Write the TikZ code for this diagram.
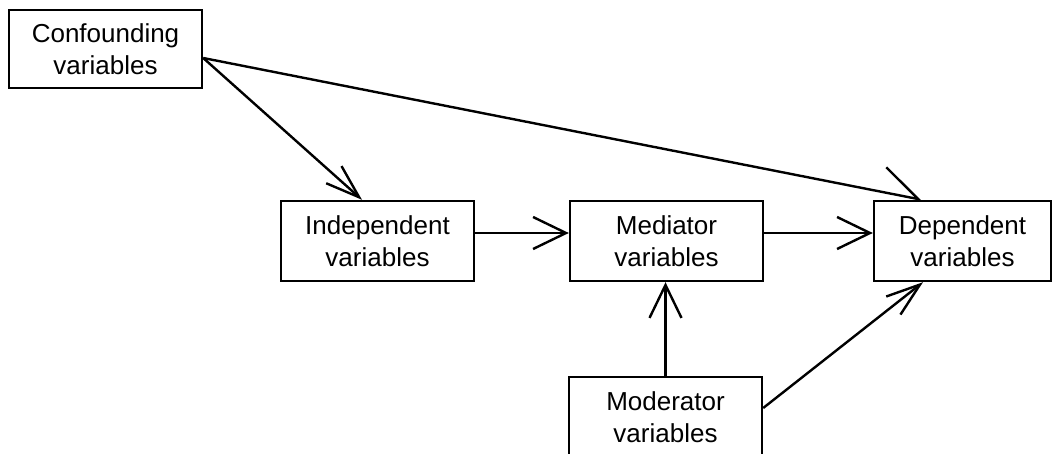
\documentclass[tikz,border=0pt]{standalone}
\usepackage{fontspec}
\setmainfont{Liberation Sans}
\usetikzlibrary{arrows.meta}

\begin{document}
\begin{tikzpicture}[x=0.5pt, y=-0.5pt, line width=1.2pt,
  every node/.style = {shape=rectangle, draw, align=center,
    inner sep=0pt, minimum width=96.5pt, minimum height=40pt,
    font=\fontsize{13}{16}\selectfont},
  arr/.style = {-{Straight Barb[length=16.5pt, width=16pt]}},
  darr/.style = {-{Straight Barb[length=17pt, width=11.5pt]}},
  harr/.style = {-{Straight Barb[left, length=18.7pt, width=25pt]}}]
  \useasboundingbox (0,0) rectangle (1058,454);

  \node[minimum height=39pt] (conf) at (105.5,49) {Confounding\\variables};
  \node (indep) at (377.5,241) {Independent\\variables};
  \node (med) at (666.5,241) {Mediator\\variables};
  \node[minimum width=88.5pt] (dep) at (962.5,241) {Dependent\\variables};
  \node (mod) at (665.5,417) {Moderator\\variables};

  \draw[darr] ([yshift=-4.5pt]conf.east) -- ([xshift=-7.75pt]indep.north);
  \draw[harr] ([yshift=-4.5pt]conf.east) -- ([xshift=-20.25pt]dep.north);
  \draw[arr] ([yshift=4pt]indep.east) -- ([yshift=4pt]med.west);
  \draw[arr] ([yshift=4pt]med.east) -- ([yshift=4pt]dep.west);
  \draw[arr] (mod.north) -- (mod.north |- med.south);
  \draw[darr] ([yshift=4.5pt]mod.east) -- ([xshift=-19.75pt]dep.south);
\end{tikzpicture}
\end{document}
